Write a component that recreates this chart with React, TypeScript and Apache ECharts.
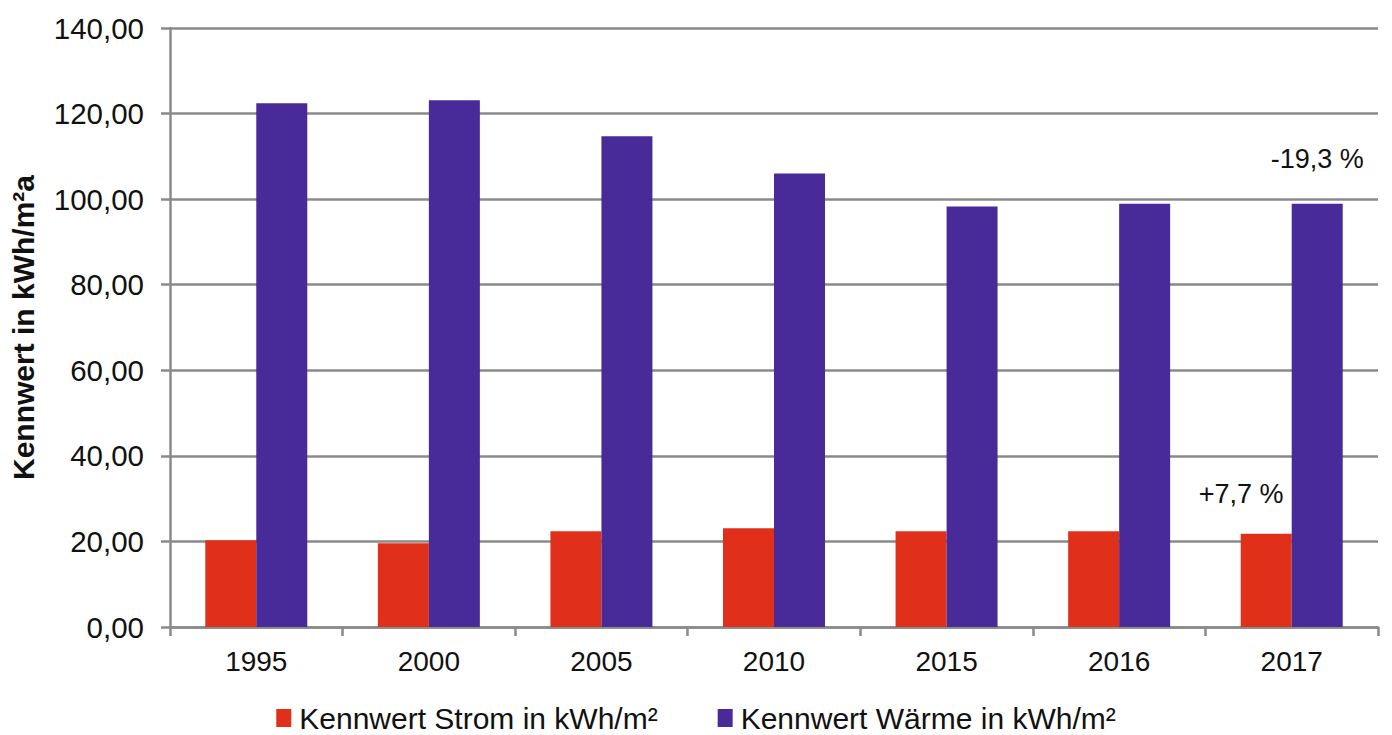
import React, { useEffect, useRef } from "react";
import * as echarts from "echarts";

// Years on the category axis
const years = ["1995", "2000", "2005", "2010", "2015", "2016", "2017"];

// Specific consumption values in kWh/m² per year
const stromValues = [20.3, 19.6, 22.4, 23.1, 22.4, 22.4, 21.8];
const waermeValues = [122.4, 123.1, 114.7, 106.0, 98.3, 98.9, 98.9];

// Change 1995 → 2017, shown above the last pair of bars
const stromChange = "+7,7 %";
const waermeChange = "-19,3 %";

const seriesNames = ["Kennwert Strom in kWh/m²", "Kennwert Wärme in kWh/m²"];
const yAxisTitle = "Kennwert in kWh/m²a";

const FONT = "'Liberation Sans', Arial, sans-serif";
const GRID_GREY = "#8a8a8a";
const RED = "#e0301a";
const PURPLE = "#482a98";

export default function App() {
  const ref = useRef<HTMLDivElement>(null);

  useEffect(() => {
    if (!ref.current) return;
    const chart = echarts.init(ref.current, undefined, { renderer: "svg" });
    const last = years.length - 1;

    const stromData = stromValues.map((v, i) =>
      i === last
        ? {
            value: v,
            label: {
              show: true,
              position: "top",
              distance: 26,
              offset: [-25, 0],
              formatter: stromChange,
              fontFamily: FONT,
              fontSize: 27,
              color: "#111",
            },
          }
        : v
    );
    const waermeData = waermeValues.map((v, i) =>
      i === last
        ? {
            value: v,
            label: {
              show: true,
              position: "top",
              distance: 31,
              formatter: waermeChange,
              fontFamily: FONT,
              fontSize: 27,
              color: "#111",
            },
          }
        : v
    );

    chart.setOption({
      animation: false,
      backgroundColor: "#ffffff",
      textStyle: { fontFamily: FONT },
      grid: { left: 168, right: 14, top: 28, bottom: 108, containLabel: false },
      legend: {
        top: 702,
        left: "center",
        itemWidth: 15,
        itemHeight: 18,
        itemGap: 60,
        icon: "rect",
        padding: 0,
        textStyle: {
          fontFamily: FONT,
          fontSize: 30,
          lineHeight: 32,
          color: "#111",
          padding: [0, 0, 0, 3],
        },
        data: seriesNames,
      },
      xAxis: {
        type: "category",
        data: years,
        axisLine: { lineStyle: { color: GRID_GREY, width: 2.5 } },
        axisTick: { show: true, length: 9, alignWithLabel: false, lineStyle: { color: GRID_GREY, width: 2.5 } },
        axisLabel: { fontFamily: FONT, fontSize: 28, color: "#111", margin: 20 },
      },
      yAxis: {
        type: "value",
        min: 0,
        max: 140,
        interval: 20,
        name: yAxisTitle,
        nameLocation: "middle",
        nameRotate: 90,
        nameGap: 132,
        nameTextStyle: { fontFamily: FONT, fontSize: 30, fontWeight: "bold", color: "#111" },
        axisLine: { show: true, lineStyle: { color: GRID_GREY, width: 2.5 } },
        axisTick: { show: true, length: 9, lineStyle: { color: GRID_GREY, width: 2.5 } },
        splitLine: { show: true, lineStyle: { color: GRID_GREY, width: 2.5 } },
        axisLabel: {
          fontFamily: FONT,
          fontSize: 29.5,
          color: "#111",
          margin: 26,
          formatter: (v: number) => v.toFixed(2).replace(".", ","),
        },
      },
      series: [
        {
          name: seriesNames[0],
          type: "bar",
          data: stromData,
          barWidth: 51,
          barGap: "0%",
          itemStyle: { color: RED },
        },
        {
          name: seriesNames[1],
          type: "bar",
          data: waermeData,
          barWidth: 51,
          barGap: "0%",
          itemStyle: { color: PURPLE },
        },
      ],
    });

    return () => chart.dispose();
  }, []);

  return (
    <div
      ref={ref}
      style={{ position: "fixed", left: 0, top: 0, width: 1392, height: 735, background: "#fff" }}
    />
  );
}
